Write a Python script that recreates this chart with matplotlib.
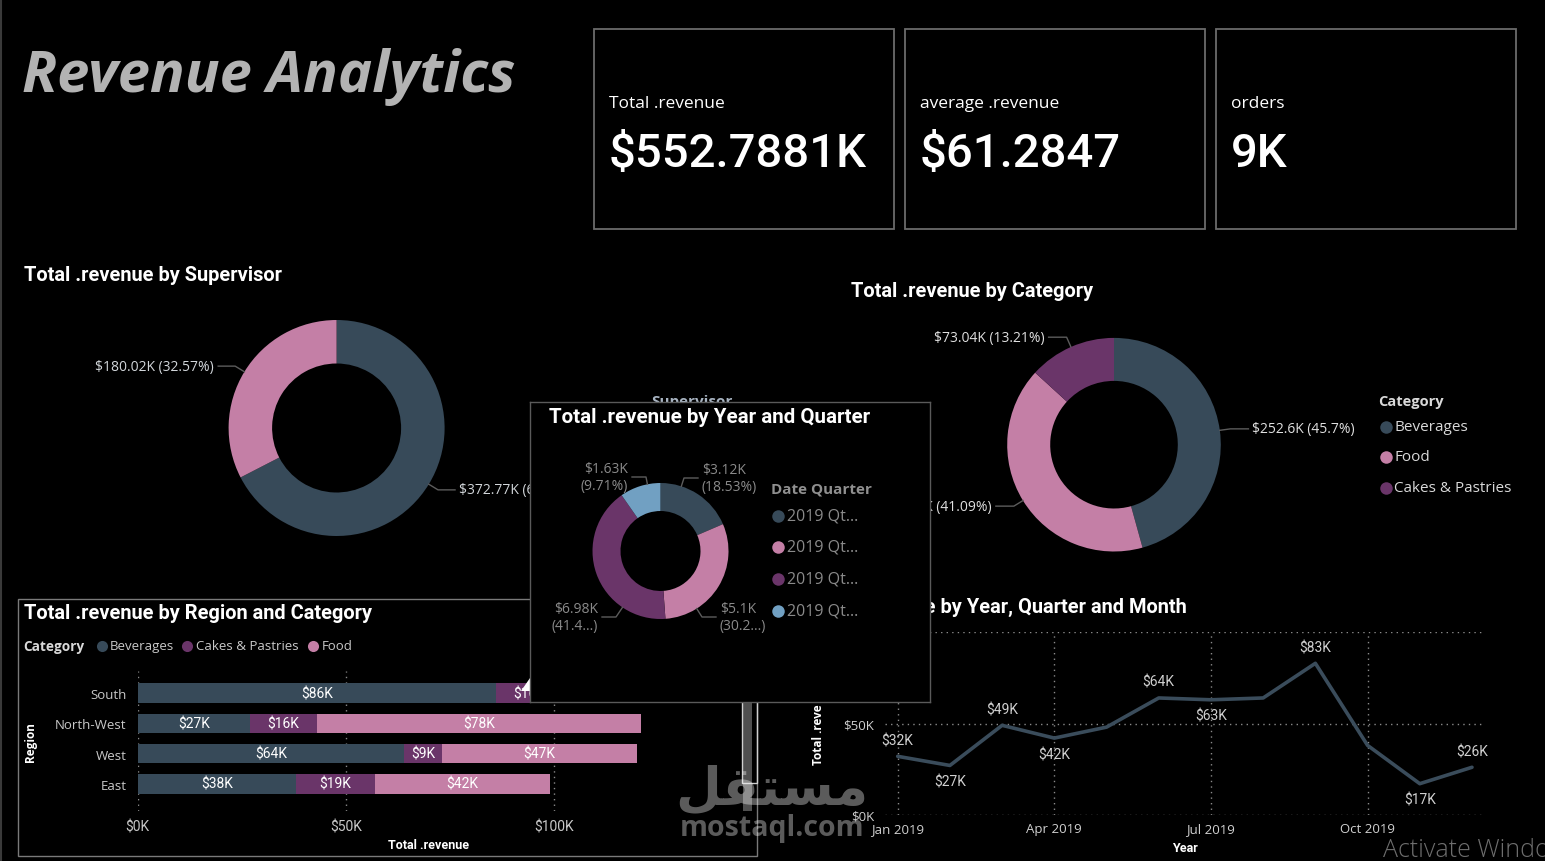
import numpy as np
import matplotlib
matplotlib.use('Agg')
import matplotlib.pyplot as plt
from matplotlib import font_manager as fm
from matplotlib.patches import Rectangle, Polygon

# ---------------- data ----------------
dashboard_title = 'Revenue Analytics'
kpi_labels = ['Total .revenue', 'average .revenue', 'orders']
kpi_values = ['$552.7881K', '$61.2847', '9K']

supervisor_revenue = [372.77, 180.02]

category_names = ['Beverages', 'Food', 'Cakes & Pastries']
category_revenue = [252.6, 227.14, 73.04]

quarter_names = ['2019 Qt...', '2019 Qt...', '2019 Qt...', '2019 Qt...']
quarter_revenue = [3.12, 5.1, 6.98, 1.63]
quarter_labels = ['$3.12K\n(18.53%)', '$5.1K\n(30.2...)', '$6.98K\n(41.4...)', '$1.63K\n(9.71%)']

regions = ['South', 'North-West', 'West', 'East']
region_series = ['Beverages', 'Cakes & Pastries', 'Food']
region_beverages = [86, 27, 64, 38]
region_cakes = [16, 16, 9, 19]
region_food = [40, 78, 47, 42]
region_ticks = [0, 50, 100]
region_tick_labels = ['$0K', '$50K', '$100K']

monthly_revenue = [32, 27, 49, 42, 48, 64, 63, 64, 83, 38, 17, 26]
month_label_side = [1, -1, 1, -1, 0, 1, -1, 0, 1, 0, -1, 1]
month_tick_pos = [0, 3, 6, 9]
month_tick_labels = ['Jan 2019', 'Apr 2019', 'Jul 2019', 'Oct 2019']
line_y_ticks = [0, 50, 100]
line_y_tick_labels = ['$0K', '$50K', '$100K']

# ---------------- style ----------------
C_DARK = '#374a59'
C_PINK = '#c47fa6'
C_PURPLE = '#6a3569'
C_BLUE = '#71a0c2'
C_LINE = '#3a4c5b'

avail = {f.name for f in fm.fontManager.ttflist}
def pick(*names):
    for n in names:
        if n in avail:
            return n
    return 'DejaVu Sans'
DIN = pick('Roboto', 'Open Sans')
SEG = pick('Open Sans', 'Noto Sans', 'DejaVu Sans')
TITLEF = pick('Open Sans', 'Lato')

W, H = 1545, 862
fig = plt.figure(figsize=(W / 100, H / 100), dpi=100, facecolor='black')
renderer = fig.canvas.get_renderer()

def box(x0, y0, x1, y1):
    return [x0 / W, 1 - y1 / H, (x1 - x0) / W, (y1 - y0) / H]

def overlay(z):
    ax = fig.add_axes([0, 0, 1, 1], zorder=z)
    ax.set_xlim(0, W)
    ax.set_ylim(H, 0)
    ax.axis('off')
    return ax

ov_lo = overlay(5)
ov_hi = overlay(15)

def fit_width(t, target):
    w = t.get_window_extent(renderer).width
    t.set_fontsize(t.get_fontsize() * target / w)

def kfmt(v):
    return '$' + f'{v:.2f}'.rstrip('0').rstrip('.') + 'K'

def pfmt(p):
    return f'{p:.2f}'.rstrip('0').rstrip('.') + '%'

def donut(cx, cy, R, rin, values, colors, z):
    ax = fig.add_axes(box(cx - R, cy - R, cx + R, cy + R), zorder=z)
    wedges, _ = ax.pie(values, colors=colors, startangle=90, counterclock=False,
                       radius=1, wedgeprops=dict(width=1 - rin / R, linewidth=0))
    ax.set_xlim(-1, 1)
    ax.set_ylim(-1, 1)
    ax.set_aspect('equal')
    ax.axis('off')
    return wedges

def leader(ov, w, cx, cy, R, r_el, hlen, text, color, fs, font):
    th = np.deg2rad((w.theta1 + w.theta2) / 2)
    p = (cx + R * np.cos(th), cy - R * np.sin(th))
    e = (cx + r_el * R * np.cos(th), cy - r_el * R * np.sin(th))
    side = 1 if np.cos(th) >= 0 else -1
    h = (e[0] + side * hlen, e[1])
    ov.plot([p[0], e[0], h[0]], [p[1], e[1], h[1]], color='#5c5c5c', lw=1)
    ov.text(h[0] + side * 4, h[1], text, ha='left' if side > 0 else 'right',
            va='center', color=color, fontsize=fs, family=font)

# ---------------- header ----------------
fig.add_artist(plt.Line2D([0.5 / W, 0.5 / W], [0, 1], color='#3a3a3a', lw=1.5))
tt = ov_lo.text(22, 92, dashboard_title, family=TITLEF, fontweight='bold', fontstyle='italic',
                fontsize=40, color='#b3b3b3', va='baseline', ha='left')
fit_width(tt, 493)

for i, x0 in enumerate([594, 905, 1216]):
    ov_lo.add_patch(Rectangle((x0, 30), 300, 200, fill=False, edgecolor='#6b6b6b', lw=1.3))
    ov_lo.text(x0 + 15, 108, kpi_labels[i], family=SEG, fontsize=12.5, color='white',
               va='baseline', ha='left')
    ov_lo.text(x0 + 15, 167, kpi_values[i], family=DIN, fontweight=500, fontsize=34,
               color='white', va='baseline', ha='left')

TS = 14.4  # chart title size

# ---------------- supervisor donut ----------------
ov_lo.text(24, 281, 'Total .revenue by Supervisor', family=DIN, fontweight='bold',
           fontsize=TS, color='white', va='baseline')
sv_total = sum(supervisor_revenue)
sw = donut(336.6, 429, 108, 64.5, supervisor_revenue, [C_DARK, C_PINK], 2)
for w, v in zip(sw, supervisor_revenue):
    leader(ov_lo, w, 336.6, 429, 108, 1.1, 17, f'{kfmt(v)} ({pfmt(v / sv_total * 100)})',
           '#d2d6da', 10, SEG)
ov_lo.text(651, 395, 'Supervisor', family=SEG, fontweight='bold', fontsize=11,
           color='#a8b4c2', va='top', ha='left')

# ---------------- category donut ----------------
ov_lo.text(851, 297, 'Total .revenue by Category', family=DIN, fontweight='bold',
           fontsize=TS, color='white', va='baseline')
cat_colors = [C_DARK, C_PINK, C_PURPLE]
ct_total = sum(category_revenue)
cw = donut(1114, 445.7, 106.8, 63.8, category_revenue, cat_colors, 2)
for w, v in zip(cw, category_revenue):
    leader(ov_lo, w, 1114, 445.7, 106.8, 1.1, 18, f'{kfmt(v)} ({pfmt(v / ct_total * 100)})',
           '#e0e0e0', 10, SEG)
ov_lo.text(1378, 402, 'Category', family=SEG, fontweight='bold', fontsize=10.5,
           color='#d9d9d9', va='center')
for name, col, yy in zip(category_names, cat_colors, [428, 458, 489]):
    ov_lo.plot([1386], [yy], 'o', ms=9, color=col, mec='none')
    ov_lo.text(1394, yy, name, family=SEG, fontsize=11, color='#d9d9d9', va='center')

# ---------------- region & category bars ----------------
ov_lo.add_patch(Rectangle((18, 600), 739, 257, fill=False, edgecolor='#7a7a7a', lw=1))
ov_lo.text(24, 619, 'Total .revenue by Region and Category', family=DIN, fontweight='bold',
           fontsize=TS, color='white', va='baseline')
reg_colors = [C_DARK, C_PURPLE, C_PINK]
ov_lo.text(23, 647, 'Category', family=SEG, fontweight='bold', fontsize=9.8,
           color='#d9d9d9', va='center')
for name, col, mx in zip(region_series, reg_colors, [101.5, 187, 313]):
    ov_lo.plot([mx], [647], 'o', ms=8, color=col, mec='none')
    ov_lo.text(mx + 8.5, 647, name, family=SEG, fontsize=9.5, color='#c8c8c8', va='center')

rax = fig.add_axes(box(137.7, 672, 741.3, 811.7), zorder=2)
rax.set_facecolor('none')
yy = np.arange(len(regions))
left = np.zeros(len(regions))
for vals, col in zip([region_beverages, region_cakes, region_food], reg_colors):
    vals = np.array(vals, dtype=float)
    rax.barh(yy, vals, left=left, height=0.64, color=col, linewidth=0, zorder=2)
    for yi, l, v in zip(yy, left, vals):
        rax.text(l + v / 2, yi, f'${int(v)}K', ha='center', va='center', color='white',
                 fontsize=10, family=DIN, zorder=3)
    left += vals
rax.set_xlim(0, 145)
rax.set_ylim(3.884, -0.726)
rax.set_xticks(region_ticks, region_tick_labels)
rax.set_yticks(yy, regions)
rax.grid(axis='x', color='#8a8a8a', linestyle=(0, (1, 3)), lw=1)
rax.set_axisbelow(True)
for s in rax.spines.values():
    s.set_visible(False)
rax.tick_params(axis='both', length=0, colors='#c8c8c8')
rax.tick_params(axis='x', pad=6, labelsize=10)
rax.tick_params(axis='y', pad=8, labelsize=9.5)
for t in rax.get_xticklabels():
    t.set_family(DIN)
for t in rax.get_yticklabels():
    t.set_family(SEG)
ov_lo.text(429, 846, 'Total .revenue', family=DIN, fontweight='bold', fontsize=9,
           color='white', ha='center', va='center')
ov_lo.text(30, 742, 'Region', family=SEG, fontweight='bold', fontsize=8.5, color='white',
           ha='center', va='center', rotation=90)
# scrollbar & tooltip pointer
ov_lo.add_patch(Rectangle((743, 680), 9, 132, color='#505050', lw=0))
ov_lo.add_patch(Rectangle((742, 680), 15, 104, fill=False, edgecolor='#d0d0d0', lw=1))
ov_lo.add_patch(Polygon([(530, 679), (521, 692), (530, 692)], closed=True, color='white', lw=0))

# ---------------- monthly line ----------------
ov_lo.text(1187, 613, 'Total .revenue by Year, Quarter and Month', family=DIN,
           fontweight='bold', fontsize=TS, color='white', va='baseline', ha='right')
lax = fig.add_axes(box(885, 633.3, 1484, 815.7), zorder=2)
lax.set_facecolor('none')
xm = np.arange(len(monthly_revenue))
lax.plot(xm, monthly_revenue, color=C_LINE, lw=2.6, solid_capstyle='round', zorder=3)
for xi, v, s in zip(xm, monthly_revenue, month_label_side):
    if s:
        lax.annotate(f'${v}K', (xi, v), xytext=(0, 11.5 * s), textcoords='offset points',
                     ha='center', va='center', color='#d0d0d0', fontsize=10, family=DIN,
                     zorder=4)
lax.set_xlim(-0.243, 11.23)
lax.set_ylim(0, 100)
lax.set_xticks(month_tick_pos, month_tick_labels)
lax.set_yticks(line_y_ticks, line_y_tick_labels)
lax.grid(True, color='#8a8a8a', linestyle=(0, (1, 3)), lw=1)
lax.set_axisbelow(True)
for s in lax.spines.values():
    s.set_visible(False)
lax.tick_params(axis='both', length=0, colors='#d0d0d0', labelsize=9.5)
lax.tick_params(axis='x', pad=5)
lax.tick_params(axis='y', pad=8)
for t in lax.get_xticklabels() + lax.get_yticklabels():
    t.set_family(SEG)
ov_lo.text(1184.6, 849, 'Year', family=DIN, fontweight='bold', fontsize=9,
           color='white', ha='center', va='center')
ov_lo.text(819, 735, 'Total .reve', family=SEG, fontweight='bold', fontsize=8.5,
           color='white', ha='center', va='center', rotation=90)

# ---------------- popup: year & quarter ----------------
pax = fig.add_axes(box(530, 403, 930, 703), zorder=10)
pax.set_facecolor('black')
pax.set_xticks([])
pax.set_yticks([])
for s in pax.spines.values():
    s.set_color('#5a5a5a')
    s.set_linewidth(1)
ov_hi.text(549, 423, 'Total .revenue by Year and Quarter', family=DIN, fontweight='bold',
           fontsize=TS + 0.4, color='white', va='baseline')
q_colors = [C_DARK, C_PINK, C_PURPLE, C_BLUE]
qcx, qcy, qR = 660.5, 552, 68
donut(qcx, qcy, qR, 40, quarter_revenue, q_colors, 12)
q_label_pos = [(702, 479, 1), (720, 618, 1), (598, 618, -1), (628, 478, -1)]
for (lx, ly, side), txt in zip(q_label_pos, quarter_labels):
    ex = lx - side * 18
    ang = np.arctan2(qcy - ly, ex - qcx)
    px, py = qcx + qR * np.cos(ang), qcy - qR * np.sin(ang)
    ov_hi.plot([px, ex, lx - side * 4], [py, ly, ly], color='#5c5c5c', lw=1)
    ov_hi.text(lx, ly, txt, ha='left' if side > 0 else 'right', va='center',
               color='#8a8a8a', fontsize=10, family=SEG, linespacing=1.25)
ov_hi.text(771, 490, 'Date Quarter', family=SEG, fontweight='bold', fontsize=11,
           color='#8f8f8f', va='center')
for name, col, yq in zip(quarter_names, q_colors, [517, 548, 580, 612]):
    ov_hi.plot([778.3], [yq], 'o', ms=9, color=col, mec='none')
    ov_hi.text(787, yq, name, family=SEG, fontsize=11.5, color='#8a8a8a', va='center')

# ---------------- watermark & system text ----------------
ov_hi.text(772, 789, '\uFEDE\uFED8\uFE98\uFEB4\uFEE3', family='DejaVu Sans', fontweight='bold',
           fontsize=38, color='white', alpha=0.36, ha='center', va='center')
ov_hi.text(772, 829, 'mostaql.com', family=SEG, fontweight='bold', fontsize=20.5,
           color='white', alpha=0.36, ha='center', va='center')
ov_hi.text(1383, 857, 'Activate Windows', family=SEG, fontweight='light', fontsize=18,
           color='#6e6e6e', va='baseline', ha='left')

fig.savefig('out.png', dpi=100, facecolor='black')
